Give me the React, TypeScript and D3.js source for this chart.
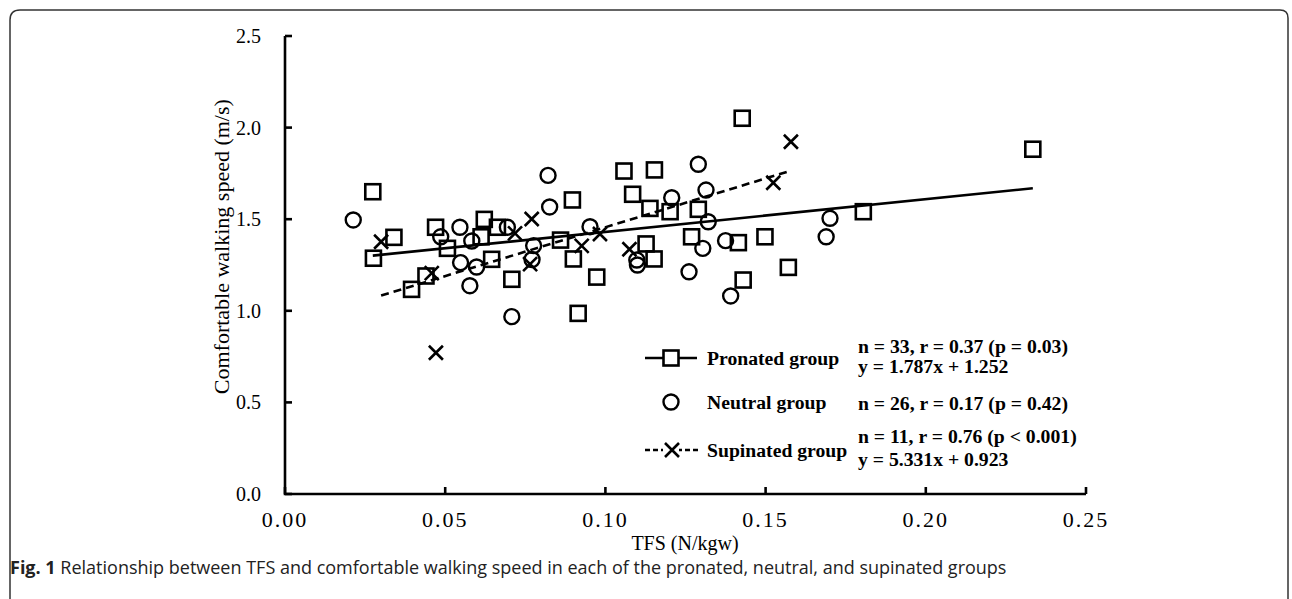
import React from "react";
import * as d3 from "d3";

// TFS (N/kgw) and comfortable walking speed (m/s)
const pronatedTfs = [
  0.0274, 0.034, 0.0276, 0.047, 0.0507, 0.0622, 0.0612, 0.0663, 0.0645, 0.044,
  0.0395, 0.0708, 0.0897, 0.086, 0.09, 0.0973, 0.0915, 0.1058, 0.1153, 0.1085,
  0.1139, 0.1202, 0.129, 0.1127, 0.1152, 0.1269, 0.1415, 0.1498, 0.143, 0.1571,
  0.1427, 0.1805, 0.2334,
];
const pronatedSpeed = [
  1.65, 1.401, 1.287, 1.456, 1.341, 1.499, 1.404, 1.456, 1.281, 1.19, 1.117,
  1.172, 1.605, 1.386, 1.283, 1.184, 0.986, 1.763, 1.769, 1.636, 1.559, 1.541,
  1.554, 1.365, 1.283, 1.404, 1.372, 1.404, 1.168, 1.237, 2.051, 1.541, 1.882,
];
const neutralTfs = [
  0.0213, 0.0486, 0.0546, 0.0583, 0.0694, 0.0821, 0.0826, 0.0776, 0.0771,
  0.0548, 0.0598, 0.0577, 0.0708, 0.0952, 0.129, 0.1207, 0.1314, 0.1321, 0.1098,
  0.11, 0.1304, 0.1375, 0.1261, 0.1391, 0.1701, 0.1689,
];
const neutralSpeed = [
  1.496, 1.404, 1.456, 1.381, 1.456, 1.739, 1.567, 1.356, 1.28, 1.263, 1.239,
  1.137, 0.968, 1.459, 1.8, 1.617, 1.659, 1.486, 1.277, 1.25, 1.341, 1.383,
  1.213, 1.081, 1.505, 1.404,
];
const supinatedTfs = [
  0.03, 0.0471, 0.0458, 0.0718, 0.077, 0.0765, 0.0926, 0.0983, 0.1075, 0.1524,
  0.1579,
];
const supinatedSpeed = [
  1.377, 0.771, 1.206, 1.423, 1.501, 1.255, 1.354, 1.419, 1.336, 1.699, 1.923,
];

const pronatedFit = { slope: 1.787, intercept: 1.252 };
const supinatedFit = { slope: 5.331, intercept: 0.923 };

const xTicks = [0, 0.05, 0.1, 0.15, 0.2, 0.25];
const yTicks = [0, 0.5, 1, 1.5, 2, 2.5];

const legendLabels = ["Pronated group", "Neutral group", "Supinated group"];
const legendStats = [
  ["n = 33, r = 0.37 (p = 0.03)", "y = 1.787x + 1.252"],
  ["n = 26, r = 0.17 (p = 0.42)"],
  ["n = 11, r = 0.76 (p < 0.001)", "y = 5.331x + 0.923"],
];

const serif = "'Liberation Serif', 'Times New Roman', serif";

const Square = ({ cx, cy }) => (
  <rect x={cx - 7.5} y={cy - 7.5} width={15} height={15} fill="none" stroke="#000" strokeWidth={2.6} />
);
const Ring = ({ cx, cy }) => (
  <circle cx={cx} cy={cy} r={7.5} fill="none" stroke="#000" strokeWidth={2.4} />
);
const Cross = ({ cx, cy }) => (
  <path
    d={`M${cx - 7},${cy - 7}L${cx + 7},${cy + 7}M${cx - 7},${cy + 7}L${cx + 7},${cy - 7}`}
    stroke="#000"
    strokeWidth={2.6}
    fill="none"
  />
);

const App = () => {
  const width = 1292;
  const height = 599;

  const xScale = d3.scaleLinear().domain([0, 0.25]).range([285, 1086]);
  const yScale = d3.scaleLinear().domain([0, 2.5]).range([494, 36]);

  const fitLine = (xs, fit) => {
    const [lo, hi] = d3.extent(xs);
    return d3
      .line()
      .x((d) => xScale(d))
      .y((d) => yScale(fit.slope * d + fit.intercept))([lo, hi]);
  };

  const legendX = 645;
  const rowY = [358, 402, 450];
  const statY = [[353, 373], [410], [443, 466]];

  return (
    <svg
      width={width}
      height={height}
      style={{ position: "absolute", left: 0, top: 0, background: "#fff" }}
    >
      {/* figure frame */}
      <path
        d={`M10,${height + 5}V20Q10,10 20,10H1280Q1288,10 1288,18V${height + 5}`}
        fill="none"
        stroke="#333"
        strokeWidth={1.5}
      />

      {/* axes */}
      <g stroke="#000" strokeWidth={2.6} fill="none">
        <path d={`M${xScale(0)},${yScale(2.5)}V${yScale(0)}H${xScale(0.25)}`} />
        {yTicks.map((t) => (
          <line key={t} x1={xScale(0)} x2={xScale(0) + 7} y1={yScale(t)} y2={yScale(t)} />
        ))}
        {xTicks.map((t) => (
          <line key={t} x1={xScale(t)} x2={xScale(t)} y1={yScale(0)} y2={yScale(0) - 7} />
        ))}
      </g>
      <g fontFamily={serif} fontSize={20} fill="#000">
        {yTicks.map((t) => (
          <text key={t} x={xScale(0) - 24} y={yScale(t)} dy="0.35em" textAnchor="end">
            {d3.format(".1f")(t)}
          </text>
        ))}
      </g>
      <g fontFamily={serif} fontSize={22} fill="#000" letterSpacing={2}>
        {xTicks.map((t) => (
          <text key={t} x={xScale(t)} y={527} textAnchor="middle">
            {d3.format(".2f")(t)}
          </text>
        ))}
      </g>
      <text x={685} y={550} fontFamily={serif} fontSize={20} textAnchor="middle">
        TFS (N/kgw)
      </text>
      <text
        transform={`translate(229,${yScale(1.35)}) rotate(-90)`}
        fontFamily={serif}
        fontSize={22}
        textAnchor="middle"
      >
        Comfortable walking speed (m/s)
      </text>

      {/* regression lines */}
      <path d={fitLine(pronatedTfs, pronatedFit)} stroke="#000" strokeWidth={2.6} fill="none" />
      <path
        d={fitLine(supinatedTfs, supinatedFit)}
        stroke="#000"
        strokeWidth={2.6}
        strokeDasharray="8 5"
        fill="none"
      />

      {/* points */}
      {pronatedTfs.map((v, i) => (
        <Square key={`p${i}`} cx={xScale(v)} cy={yScale(pronatedSpeed[i])} />
      ))}
      {neutralTfs.map((v, i) => (
        <Ring key={`n${i}`} cx={xScale(v)} cy={yScale(neutralSpeed[i])} />
      ))}
      {supinatedTfs.map((v, i) => (
        <Cross key={`s${i}`} cx={xScale(v)} cy={yScale(supinatedSpeed[i])} />
      ))}

      {/* legend */}
      <g>
        <line x1={legendX} x2={legendX + 52} y1={rowY[0]} y2={rowY[0]} stroke="#000" strokeWidth={2.6} />
        <rect x={legendX + 18} y={rowY[0] - 8} width={16} height={16} fill="#fff" />
        <Square cx={legendX + 26} cy={rowY[0]} />
        <Ring cx={legendX + 26} cy={rowY[1]} />
        <line
          x1={legendX}
          x2={legendX + 53}
          y1={rowY[2]}
          y2={rowY[2]}
          stroke="#000"
          strokeWidth={2.6}
          strokeDasharray="5 3"
        />
        <rect x={legendX + 18} y={rowY[2] - 8} width={16} height={16} fill="#fff" />
        <Cross cx={legendX + 27} cy={rowY[2]} />
      </g>
      <g fontFamily={serif} fontSize={19.7} fontWeight="bold" fill="#000">
        {legendLabels.map((label, i) => (
          <text key={label} x={707} y={rowY[i] + 7}>
            {label}
          </text>
        ))}
        {legendStats.map((lines, i) =>
          lines.map((s, j) => (
            <text key={s} x={858} y={statY[i][j]}>
              {s}
            </text>
          ))
        )}
      </g>

      {/* caption */}
      <text x={10} y={574} fontFamily="'Open Sans', 'Noto Sans', sans-serif" fontSize={18} fill="#222">
        <tspan fontWeight="bold">Fig. 1</tspan>
        <tspan> Relationship between TFS and comfortable walking speed in each of the pronated, neutral, and supinated groups</tspan>
      </text>
    </svg>
  );
};

export default App;
